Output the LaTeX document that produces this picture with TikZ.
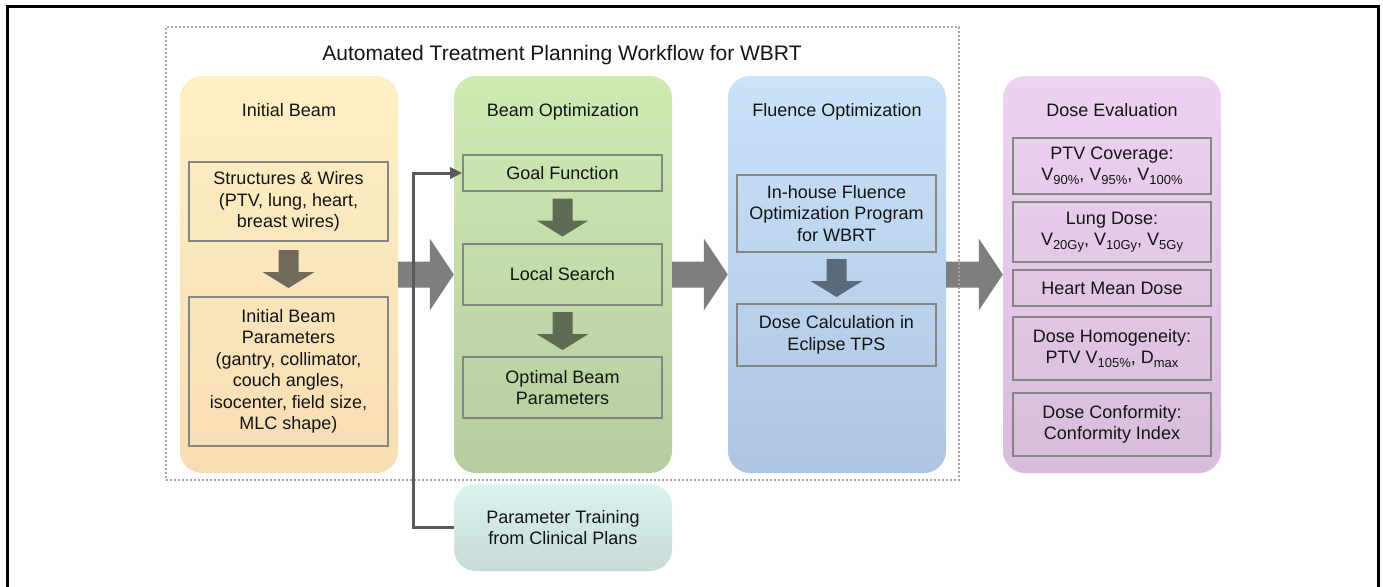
\documentclass[tikz,border=0pt]{standalone}
\usepackage{fontspec}
\setmainfont{Liberation Sans}
\usetikzlibrary{arrows.meta,calc}
\definecolor{txt}{HTML}{141414}
\definecolor{boxgray}{HTML}{858585}
\definecolor{arrgray}{HTML}{7E7E7E}
\definecolor{linegray}{HTML}{5A5A5A}
\definecolor{ibtop}{HTML}{FDF0C4}\definecolor{ibbot}{HTML}{F8DCB4}
\definecolor{botop}{HTML}{CFEBB3}\definecolor{bobot}{HTML}{B6CC9F}
\definecolor{fotop}{HTML}{C9E3F9}\definecolor{fobot}{HTML}{AEC5E2}
\definecolor{detop}{HTML}{EED2F2}\definecolor{debot}{HTML}{D8BDDA}
\definecolor{pttop}{HTML}{D9F3EF}\definecolor{ptbot}{HTML}{C8DBD9}
\definecolor{ibarr}{HTML}{6F6A59}
\definecolor{boarr}{HTML}{5F6B52}
\definecolor{foarr}{HTML}{5A6A7C}
\newcommand\lsb[1]{\raisebox{-0.22em}{\fontsize{13}{13}\selectfont #1}}
\begin{document}
\begin{tikzpicture}[x=1pt,y=-1pt,
  col/.style={rounded corners=22pt, minimum width=218pt, minimum height=397pt, inner sep=0pt},
  hdr/.style={font=\fontsize{18}{21.5}\selectfont, text=txt, text height=13pt, text depth=4pt},
  ibox/.style={draw=boxgray, line width=1.8pt, minimum width=199pt, align=center, inner sep=0pt, font=\fontsize{18}{21.5}\selectfont, text=txt},
  bigarrow/.style={fill=arrgray, to path={let \p1=(\tikztostart), \p2=(\tikztotarget) in
     (\x1,{\y1+13pt}) -- ({\x2-24pt},{\y1+13pt}) -- ({\x2-24pt},{\y1+36pt}) -- (\x2,\y1)
     -- ({\x2-24pt},{\y1-36pt}) -- ({\x2-24pt},{\y1-13pt}) -- (\x1,{\y1-13pt}) -- cycle}},
  downarr/.style={to path={let \p1=(\tikztostart), \p2=(\tikztotarget), \n1={(\y1+\y2)/2} in
     ({\x1-10pt},{\n1+19pt}) -- ({\x1+10pt},{\n1+19pt}) -- ({\x1+10pt},{\n1-3pt}) -- ({\x1+26pt},{\n1-3pt})
     -- (\x1,{\n1-19pt}) -- ({\x1-26pt},{\n1-3pt}) -- ({\x1-10pt},{\n1-3pt}) -- cycle}},
  feedback/.style={draw=linegray, line width=3pt, -{Triangle[length=12pt,width=11pt]}}
]
\useasboundingbox (0,0) rectangle (1383,586);
\fill[white] (0,0) rectangle (1383,586);
\draw[line width=3pt] (7,590) -- (7,7) -- (1378,7) -- (1378,590);

% columns
\node[col, top color=ibtop, bottom color=ibbot] (ib) at (289,274.5) {};
\node[col, top color=botop, bottom color=bobot] (bo) at (563,274.5) {};
\node[col, top color=fotop, bottom color=fobot] (fo) at (837,274.5) {};
\node[col, top color=detop, bottom color=debot] (de) at (1112,274.5) {};
\node[col, minimum height=87pt, top color=pttop, bottom color=ptbot, align=center,
      font=\fontsize{18}{21.5}\selectfont, text=txt] (pt) at (563,527.5) {Parameter Training\\from Clinical Plans};

% headers
\node[font=\fontsize{21}{24}\selectfont, text=txt, text height=15pt, text depth=5pt] (title) at (562,55) {Automated Treatment Planning Workflow for WBRT};
\node[hdr] (ibh) at (289,112) {Initial Beam};
\node[hdr] (boh) at (563,112) {Beam Optimization};
\node[hdr] (foh) at (837,112) {Fluence Optimization};
\node[hdr] (deh) at (1112,112) {Dose Evaluation};

% initial beam boxes
\node[ibox, minimum height=79pt] (sw) at (288.5,201.5) {Structures \& Wires\\(PTV, lung, heart,\\breast wires)};
\node[ibox, minimum height=149pt] (ibp) at (288.5,371.5) {Initial Beam\\Parameters\\(gantry, collimator,\\couch angles,\\isocenter, field size,\\MLC shape)};

% beam optimization boxes
\node[ibox, minimum height=36pt] (gf) at (562.5,173) {Goal Function};
\node[ibox, minimum height=61pt] (ls) at (562.5,274.5) {Local Search};
\node[ibox, minimum height=61pt] (obp) at (562.5,387.5) {Optimal Beam\\Parameters};

% fluence boxes
\node[ibox, minimum height=77pt] (ih) at (836.5,213.5) {In-house Fluence\\Optimization Program\\for WBRT};
\node[ibox, minimum height=62pt] (dc) at (836.5,335) {Dose Calculation in\\Eclipse TPS};

% dose evaluation boxes
\node[ibox, minimum width=198pt, minimum height=56pt] (ptv) at (1112,166) {PTV Coverage:\\V\lsb{90\%}, V\lsb{95\%}, V\lsb{100\%}};
\node[ibox, minimum width=198pt, minimum height=60pt] (lung) at (1112,232) {Lung Dose:\\V\lsb{20Gy}, V\lsb{10Gy}, V\lsb{5Gy}};
\node[ibox, minimum width=198pt, minimum height=36pt] (heart) at (1112,288) {Heart Mean Dose};
\node[ibox, minimum width=198pt, minimum height=63pt] (homo) at (1112,348.5) {Dose Homogeneity:\\PTV V\lsb{105\%}, D\lsb{max}};
\node[ibox, minimum width=198pt, minimum height=63pt] (conf) at (1112,424.5) {Dose Conformity:\\Conformity Index};

% inner down arrows
\path[fill=ibarr] (sw.south) to[downarr] (ibp.north);
\path[fill=boarr] (gf.south) to[downarr] (ls.north);
\path[fill=boarr] (ls.south) to[downarr] (obp.north);
\path[fill=foarr] (ih.south) to[downarr] (dc.north);

% big arrows between columns
\path[bigarrow] (ib.east) to (bo.west);
\path[bigarrow] (bo.east) to (fo.west);
\path[bigarrow] (fo.east) to (de.west);

% dotted frame
\node[draw=gray!70, line width=2.6pt, dash pattern=on 2.2pt off 1.8pt, minimum width=793pt, minimum height=453pt, inner sep=0pt] (frame) at (562.5,253.5) {};

% feedback
\draw[feedback] (pt.west) -- ++(-40,0) |- (gf.west);
\end{tikzpicture}
\end{document}
